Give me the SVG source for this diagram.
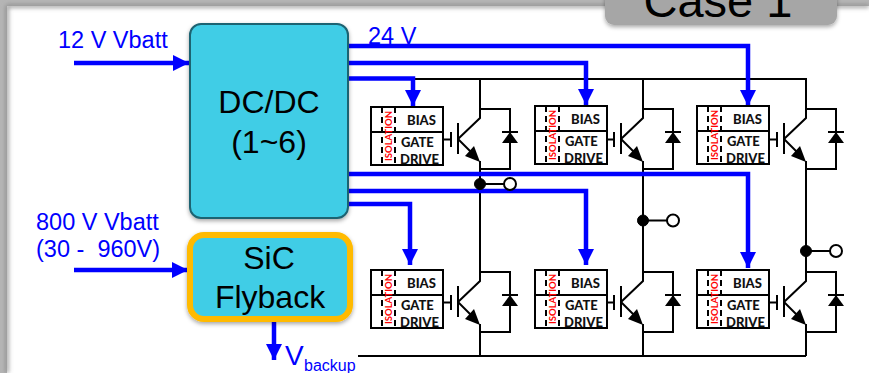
<svg xmlns="http://www.w3.org/2000/svg" width="869" height="373" viewBox="0 0 869 373">
<style>
text{font-family:"Liberation Sans",Arial,sans-serif}
.lbl{fill:#0000ff;font-size:23.500px}
.big{fill:#000;font-size:32px;text-anchor:middle}
.b{fill:none;stroke:#0000ff;stroke-width:4.500}
.k{fill:none;stroke:#000;stroke-width:2}
.d{fill:none;stroke:#000;stroke-width:2;stroke-dasharray:6 4}
.m{fill:#fff;stroke:#000;stroke-width:2}
.t{font-family:Lato,"Open Sans",sans-serif;font-weight:900;font-size:13px;fill:#111}
.i{font-family:Lato,"Open Sans",sans-serif;font-weight:700;font-size:9.500px;fill:#ff0000;text-anchor:middle}
.dot{fill:#000;stroke:#000;stroke-width:1}
.open{fill:#fff;stroke:#000;stroke-width:2}
</style>
<defs>
<filter id="sh" x="-10%" y="-10%" width="120%" height="125%"><feDropShadow dx="0" dy="2" stdDeviation="2" flood-color="#000" flood-opacity="0.35"/></filter>
<filter id="blur" x="-5%" y="-5%" width="110%" height="110%"><feGaussianBlur stdDeviation="2"/></filter>
<g id="ig">
<path class="k" d="M0 32V47M0 39.500H-7M7 23V54M7 39 29 18V9H59V69H29V61"/>
<path class="k" d="M7 39 22 54"/>
<path d="M29 62 14 56 23 46Z" fill="#000"/>
<path class="k" d="M51 32H67"/>
<path d="M59 32 67 43H51Z" fill="#000"/>
</g>
<g id="bx">
<rect class="m" x="0" y="0" width="72" height="58"/>
<path class="k" d="M0 25H72"/>
<path class="d" d="M11 0V58M24 0V58"/>
</g>
<marker id="ah" markerUnits="userSpaceOnUse" markerWidth="16" markerHeight="16" refX="16" refY="8" orient="auto"><path d="M0 0 16 8 0 16Z" fill="#0000ff"/></marker>
</defs>

<rect x="0" y="0" width="869" height="373" fill="#fff"/>
<path d="M0 0H869V6H7V373H0Z" fill="#b5b5b5"/>
<path d="M7 6H869M7 6V373" stroke="#8a8a8a" stroke-width="3" fill="none" filter="url(#blur)"/>

<g id="case-tab">
<rect x="605" y="-20" width="232" height="45" rx="9" fill="#a6a6a6" filter="url(#sh)"/>
<text x="718" y="17" font-size="47" text-anchor="middle" fill="#000">Case 1</text>
</g>

<g id="connectors">
<path class="k" d="M413 79H806V118M480 79V118M643 79V118M480 161V281M643 161V281M806 161V281M480 324V356M643 324V356M806 324V356M358 356H806"/>
<path class="b" d="M348 46H748V106" marker-end="url(#ah)"/>
<path class="b" d="M348 63H586V105" marker-end="url(#ah)"/>
<path class="b" d="M348 78.500H413V106" marker-end="url(#ah)"/>
<path class="b" d="M348 174H748V268" marker-end="url(#ah)"/>
<path class="b" d="M347 191H586V265" marker-end="url(#ah)"/>
<path class="b" d="M348 204H410V265" marker-end="url(#ah)"/>
<path class="b" d="M74 63H189" marker-end="url(#ah)"/>
<path class="b" d="M74 270H188" marker-end="url(#ah)"/>
<path class="b" d="M274 320V360" marker-end="url(#ah)"/>
<path class="k" d="M480 184H510M643 220.500H673M806 251H836"/>
</g>

<g id="dcdc">
<rect x="190" y="24" width="158" height="194" rx="11" fill="#40cde6" stroke="#1f6372" stroke-width="2" filter="url(#sh)"/>
<text class="big" x="269" y="113">DC/DC</text>
<text class="big" x="269" y="153">(1~6)</text>
</g>
<g id="flyback">
<rect x="190" y="235" width="160" height="84" rx="14" fill="#40cde6" stroke="#ffba00" stroke-width="6" filter="url(#sh)"/>
<text class="big" x="269" y="269">SiC</text>
<text class="big" x="270" y="308">Flyback</text>
</g>

<g id="labels">
<text class="lbl" x="58" y="48">12 V Vbatt</text>
<text class="lbl" x="368" y="44">24 V</text>
<text class="lbl" x="36" y="230">800 V Vbatt</text>
<text class="lbl" x="36" y="257" xml:space="preserve">(30 -  960V)</text>
<text x="285" y="365" font-size="28" fill="#0000ff">V</text>
<text x="304" y="371" font-size="16" fill="#0000ff">backup</text>
</g>

<g id="module-1" transform="translate(371 107)"><use href="#bx"/><text class="t" x="36" y="18">BIAS</text><text class="t" x="30" y="40">GATE</text><text class="t" x="29" y="57">DRIVE</text><text class="i" transform="translate(20.500 29) rotate(-90)">ISOLATION</text></g>
<g id="module-2" transform="translate(535 106)"><use href="#bx"/><text class="t" x="36" y="18">BIAS</text><text class="t" x="30" y="40">GATE</text><text class="t" x="29" y="57">DRIVE</text><text class="i" transform="translate(20.500 29) rotate(-90)">ISOLATION</text></g>
<g id="module-3" transform="translate(697 106)"><use href="#bx"/><text class="t" x="36" y="18">BIAS</text><text class="t" x="30" y="40">GATE</text><text class="t" x="29" y="57">DRIVE</text><text class="i" transform="translate(20.500 29) rotate(-90)">ISOLATION</text></g>
<g id="module-4" transform="translate(371 270)"><use href="#bx"/><text class="t" x="36" y="18">BIAS</text><text class="t" x="30" y="40">GATE</text><text class="t" x="29" y="57">DRIVE</text><text class="i" transform="translate(20.500 29) rotate(-90)">ISOLATION</text></g>
<g id="module-5" transform="translate(535 270)"><use href="#bx"/><text class="t" x="36" y="18">BIAS</text><text class="t" x="30" y="40">GATE</text><text class="t" x="29" y="57">DRIVE</text><text class="i" transform="translate(20.500 29) rotate(-90)">ISOLATION</text></g>
<g id="module-6" transform="translate(697 270)"><use href="#bx"/><text class="t" x="36" y="18">BIAS</text><text class="t" x="30" y="40">GATE</text><text class="t" x="29" y="57">DRIVE</text><text class="i" transform="translate(20.500 29) rotate(-90)">ISOLATION</text></g>

<g id="igbt-1"><use href="#ig" x="451" y="100"/></g>
<g id="igbt-2"><use href="#ig" x="614" y="100"/></g>
<g id="igbt-3"><use href="#ig" x="777" y="100"/></g>
<g id="igbt-4"><use href="#ig" x="451" y="263"/></g>
<g id="igbt-5"><use href="#ig" x="614" y="263"/></g>
<g id="igbt-6"><use href="#ig" x="777" y="263"/></g>

<g id="junction-1"><circle class="dot" cx="480" cy="184" r="5.500"/><circle class="open" cx="510" cy="184" r="6"/></g>
<g id="junction-2"><circle class="dot" cx="643" cy="220.500" r="5.500"/><circle class="open" cx="673" cy="220.500" r="6"/></g>
<g id="junction-3"><circle class="dot" cx="806" cy="251" r="5.500"/><circle class="open" cx="836" cy="251" r="6"/></g>
</svg>
